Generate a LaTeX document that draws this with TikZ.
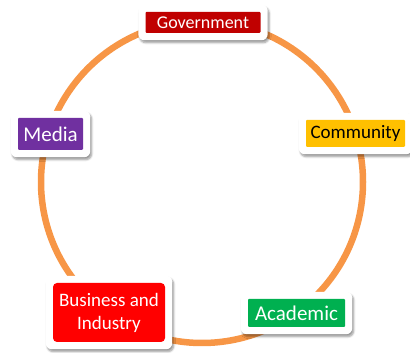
\documentclass[tikz,border=0pt]{standalone}
\usepackage{fontspec}
\setmainfont{Carlito}
\usetikzlibrary{fit,backgrounds,shadows.blur}
\definecolor{govred}{HTML}{C00000}
\definecolor{mediapurple}{HTML}{7030A0}
\definecolor{commgold}{HTML}{FFC000}
\definecolor{bizred}{HTML}{FF0000}
\definecolor{acadgreen}{HTML}{00B050}
\definecolor{ringorange}{HTML}{F79646}
\begin{document}
\begin{tikzpicture}[x=1pt,y=1pt,
    sector/.style={inner sep=2pt,rounded corners=1pt,text=white,align=center},
    frame/.style={fill=white,rounded corners=6pt,inner sep=7pt,
      blur shadow={shadow xshift=1.5pt,shadow yshift=-2.5pt,shadow opacity=40,shadow blur steps=6}},
    ring/.style={draw=ringorange,line width=6.5pt}]
    \useasboundingbox (0,0) rectangle (410,353);
    \coordinate (hub) at (202,171);
    \node[sector,fill=govred,minimum width=115pt,minimum height=21pt,font=\fontsize{18}{21}\selectfont] (gov) at (203,330.5) {Government};
    \node[sector,fill=mediapurple,minimum width=65pt,minimum height=32pt,font=\fontsize{21}{25}\selectfont] (media) at (50.5,219) {Media};
    \node[sector,fill=commgold,text=black,minimum width=99pt,minimum height=27pt,font=\fontsize{19}{23}\selectfont] (comm) at (355.5,219.5) {Community};
    \node[sector,fill=bizred,rounded corners=4pt,minimum width=112pt,minimum height=59pt,font=\fontsize{19}{23}\selectfont] (biz) at (109,40.5) {Business and\\Industry};
    \node[sector,fill=acadgreen,minimum width=97pt,minimum height=28pt,font=\fontsize{21}{25}\selectfont] (acad) at (296.5,40) {Academic};
    % ring and white frames behind the labels
    \begin{scope}[on background layer]
        \path[ring] (hub) circle (161);
        \node[frame,fit=(gov)] (gov frame) {};
        \node[frame,fit=(media)] (media frame) {};
        \node[frame,fit=(comm)] (comm frame) {};
        \node[frame,fit=(biz)] (biz frame) {};
        \node[frame,fit=(acad)] (acad frame) {};
    \end{scope}
\end{tikzpicture}
\end{document}
